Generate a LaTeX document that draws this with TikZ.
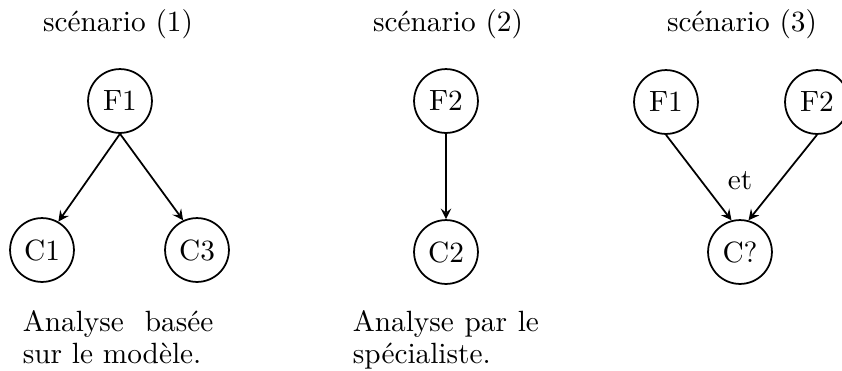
\documentclass[tikz,border=0pt]{standalone}
\begin{document}
\begin{tikzpicture}[x=.3413pt,y=-.3413pt,line width=.6pt,>=stealth,
    etat/.style={draw,shape=circle,minimum size=21.8pt,inner sep=0pt},
    legende/.style={anchor=north west,inner sep=0pt,align=justify,font={\linespread{.9}\selectfont}}]
      \useasboundingbox (0,0) rectangle (842,370);

      \path (118,31) node[anchor=base] (t1) {scénario (1)};
      \path (448,31) node[anchor=base] (t2) {scénario (2)};
      \path (742,31) node[anchor=base] (t3) {scénario (3)};

      \path (120,101) node[etat] (f1a) {F1};
      \path (42,250)  node[etat] (c1)  {C1};
      \path (197,250) node[etat] (c3)  {C3};

      \path (446,101) node[etat] (f2)  {F2};
      \path (446,252) node[etat] (c2)  {C2};

      \path (666,102) node[etat] (f1b) {F1};
      \path (817,102) node[etat] (f2b) {F2};
      \path (740,252) node[etat] (cq)  {C?};
      \path (740,181) node (et) {et};

      \path (22,310)  node[legende,text width=65pt] (l1) {Analyse basée sur le modèle.};
      \path (352,310) node[legende,text width=63.5pt] (l2) {Analyse par le spécialiste.};

      \draw[->] (f1a.south) -- (c1.60); %f1c1
      \draw[->] (f1a.south) -- (c3.115); %f1c3
      \draw[->] (f2.south) -- (c2.north); %f2c2
      \draw[->] (f1b.south) -- (cq.105); %f1c?
      \draw[->] (f2b.south) -- (cq.75); %f2c?

    \end{tikzpicture}
\end{document}
